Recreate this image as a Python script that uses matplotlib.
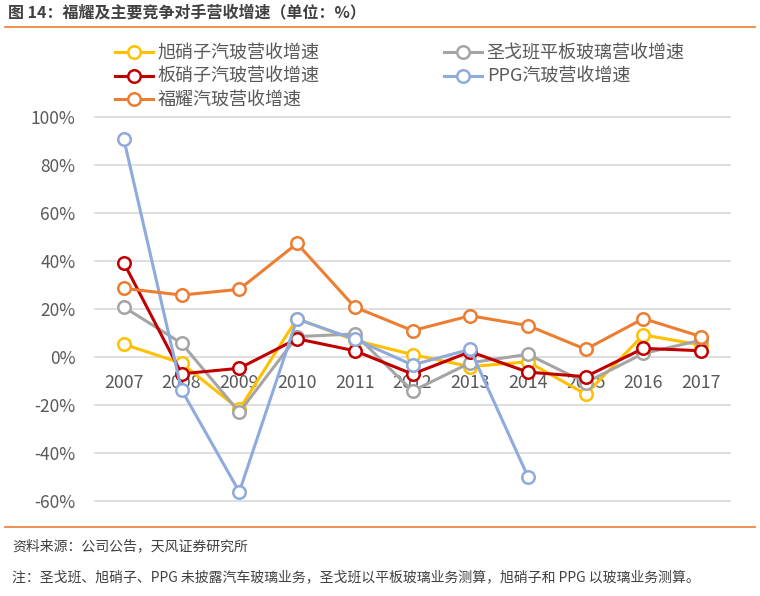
import numpy as np
import matplotlib.pyplot as plt
from matplotlib.lines import Line2D

plt.rcParams['font.family'] = ['Noto Sans CJK SC', 'DejaVu Sans']

years = ['2007', '2008', '2009', '2010', '2011', '2012', '2013', '2014', '2015', '2016', '2017']

# revenue growth, %
asahi = [5.3, -2.6, -21.8, 16.0, 7.0, 1.0, -4.0, -2.0, -15.5, 9.2, 5.0]
saint_gobain = [20.8, 5.7, -23.0, 8.5, 9.6, -14.2, -2.4, 1.1, -10.7, 1.5, 7.0]
nsg = [39.2, -7.0, -4.7, 7.6, 2.6, -7.1, 2.2, -6.3, -8.2, 3.6, 2.6]
ppg = [90.7, -13.7, -56.2, 15.8, 7.4, -3.3, 3.2, -49.9, np.nan, np.nan, np.nan]
fuyao = [28.6, 25.8, 28.2, 47.3, 20.8, 11.0, 17.2, 13.1, 3.2, 16.0, 8.5]

series = [
    ('旭硝子汽玻营收增速', asahi, '#FFC000'),
    ('圣戈班平板玻璃营收增速', saint_gobain, '#A5A5A5'),
    ('板硝子汽玻营收增速', nsg, '#C00000'),
    ('PPG汽玻营收增速', ppg, '#8FAADC'),
    ('福耀汽玻营收增速', fuyao, '#ED7D31'),
]

text_color = '#595959'

fig = plt.figure(figsize=(7.6, 5.96), dpi=100)
ax = fig.add_axes([95 / 760, 1 - 501 / 596, 635 / 760, 384 / 596])

x = np.arange(len(years))
handles = {}
for name, vals, color in series:
    h, = ax.plot(x, vals, color=color, lw=2.2, marker='o', markersize=9,
                 markerfacecolor='white', markeredgecolor=color, markeredgewidth=1.8,
                 label=name, zorder=3)
    handles[name] = h

ax.set_xlim(-0.5, 10.5)
ax.set_ylim(-60, 100)
ax.set_yticks(np.arange(-60, 101, 20))
ax.set_yticklabels([f'{v}%' for v in range(-60, 101, 20)], fontsize=12.5, color=text_color)
ax.yaxis.grid(True, color='#D9D9D9', lw=1.2, clip_on=False)
ax.set_axisbelow(True)
for s in ax.spines.values():
    s.set_visible(False)
ax.tick_params(axis='y', length=0, pad=14)

# category labels sit just below the zero line
ax.set_xticks([])
for i, yr in enumerate(years):
    ax.text(i, -10.8, yr, ha='center', va='center', fontsize=12.8, color=text_color, zorder=2)

order = ['旭硝子汽玻营收增速', '板硝子汽玻营收增速', '福耀汽玻营收增速',
         '圣戈班平板玻璃营收增速', 'PPG汽玻营收增速']
leg = fig.legend([handles[n] for n in order], order, loc='upper left',
                 bbox_to_anchor=(99 / 760, 1 - 28 / 596), ncol=2, frameon=False,
                 fontsize=13, handlelength=2.1, columnspacing=6.9, labelspacing=0.32,
                 handletextpad=0.25)
for t in leg.get_texts():
    t.set_color(text_color)

fig.text(8 / 760, 1 - 12 / 596, '图 14：福耀及主要竞争对手营收增速（单位：%）', fontsize=11.5,
         fontweight='bold', color='#404040', va='center', ha='left')
fig.add_artist(Line2D([5 / 760, 755 / 760], [1 - 27 / 596] * 2, color='#ED7D31', lw=1.2))
fig.add_artist(Line2D([5 / 760, 755 / 760], [1 - 527 / 596] * 2, color='#ED7D31', lw=1.2))
fig.text(12 / 760, 1 - 546 / 596, '资料来源：公司公告，天风证券研究所', fontsize=10,
         color='#404040', va='center', ha='left')
fig.text(12 / 760, 1 - 577 / 596,
         '注：圣戈班、旭硝子、PPG 未披露汽车玻璃业务，圣戈班以平板玻璃业务测算，旭硝子和 PPG 以玻璃业务测算。',
         fontsize=10, color='#404040', va='center', ha='left')

fig.savefig('out.png', dpi=100)
